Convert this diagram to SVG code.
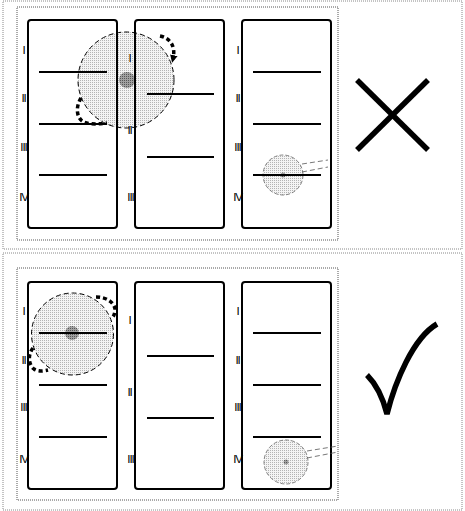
<svg xmlns="http://www.w3.org/2000/svg" width="465" height="511" viewBox="0 0 465 511">
<defs>
<pattern id="dots" width="2" height="2" patternUnits="userSpaceOnUse"><rect width="2" height="2" fill="#f4f4f4"/><rect width="1" height="1" fill="#b4b4b4"/></pattern>
<pattern id="dense" width="2" height="2" patternUnits="userSpaceOnUse"><rect width="2" height="2" fill="#a0a0a0"/><rect width="1" height="1" fill="#555"/></pattern>
<marker id="ah" viewBox="0 0 10 10" refX="5" refY="5" markerWidth="2.2" markerHeight="2.2" orient="auto"><path d="M0,0 L10,5 L0,10 z" fill="#000"/></marker>
</defs>
<style>
.frame{fill:none;stroke:#888;stroke-width:1;stroke-dasharray:1 1}
.inner{fill:none;stroke:#555;stroke-width:1;stroke-dasharray:1 1}
.col{fill:none;stroke:#000;stroke-width:2}
.ln{stroke:#000;stroke-width:2}
.lbl{font-family:"Liberation Sans",Arial,sans-serif;font-weight:normal;font-size:11.5px;letter-spacing:-1.1px;text-anchor:middle;fill:#000}
.big{fill:url(#dots);stroke:#000;stroke-width:1;stroke-dasharray:5 3}
.small{fill:url(#dots);stroke:#666;stroke-width:0.8;stroke-dasharray:4 2}
.core{fill:url(#dense);stroke:none}
.rot{fill:none;stroke:#000;stroke-width:3.5;stroke-dasharray:4 3}
.lead{stroke:#555;stroke-width:0.8;stroke-dasharray:5 3}
.mark{fill:none;stroke:#000;stroke-width:5.5;stroke-linecap:butt}
</style>
<rect class="frame" x="3" y="1" width="459" height="248"/>
<rect class="frame" x="3" y="253" width="459" height="257"/>
<rect class="inner" x="17" y="7" width="321" height="233"/>
<rect class="inner" x="17" y="268" width="321" height="232"/>

<g id="top-circle">
<circle class="big" cx="126" cy="80" r="48"/>
<circle class="core" cx="127" cy="80" r="8"/>
</g>
<g id="top-small-circle">
<circle class="small" cx="283" cy="175" r="20"/>
<circle class="core" cx="283" cy="175" r="2.5"/>
</g>
<g id="bottom-circle">
<circle class="big" cx="72.5" cy="334" r="41"/>
<circle class="core" cx="72" cy="333" r="7"/>
</g>
<g id="bottom-small-circle">
<circle class="small" cx="286" cy="462" r="22"/>
<circle class="core" cx="286" cy="462" r="2.5"/>
</g>

<g id="top-col1">
<rect class="col" x="28" y="20" width="89" height="208" rx="3"/>
<line class="ln" x1="39" y1="72" x2="107" y2="72"/>
<line class="ln" x1="39" y1="124" x2="107" y2="124"/>
<line class="ln" x1="39" y1="175" x2="107" y2="175"/>
<text class="lbl" x="23.5" y="54">I</text>
<text class="lbl" x="23.5" y="102">II</text>
<text class="lbl" x="23.5" y="151">III</text>
<text class="lbl" x="23.5" y="201">IV</text>
</g>
<g id="top-col2">
<rect class="col" x="135" y="20" width="89" height="208" rx="3"/>
<line class="ln" x1="147" y1="94" x2="214" y2="94"/>
<line class="ln" x1="147" y1="157" x2="214" y2="157"/>
<text class="lbl" x="129.5" y="62">I</text>
<text class="lbl" x="129.5" y="134">II</text>
<text class="lbl" x="130.5" y="201">III</text>
</g>
<g id="top-col3">
<rect class="col" x="242" y="20" width="89" height="208" rx="3"/>
<line class="ln" x1="253" y1="72" x2="321" y2="72"/>
<line class="ln" x1="253" y1="124" x2="321" y2="124"/>
<line class="ln" x1="253" y1="175" x2="321" y2="175"/>
<text class="lbl" x="237.5" y="54">I</text>
<text class="lbl" x="237.5" y="102">II</text>
<text class="lbl" x="237.5" y="151">III</text>
<text class="lbl" x="237.5" y="201">IV</text>
</g>
<g id="bottom-col1">
<rect class="col" x="28" y="282" width="89" height="207" rx="3"/>
<line class="ln" x1="39" y1="333" x2="107" y2="333"/>
<line class="ln" x1="39" y1="385" x2="107" y2="385"/>
<line class="ln" x1="39" y1="437" x2="107" y2="437"/>
<text class="lbl" x="23.5" y="315">I</text>
<text class="lbl" x="23.5" y="364">II</text>
<text class="lbl" x="23.5" y="411">III</text>
<text class="lbl" x="23.5" y="463">IV</text>
</g>
<g id="bottom-col2">
<rect class="col" x="135" y="282" width="89" height="207" rx="3"/>
<line class="ln" x1="147" y1="356" x2="214" y2="356"/>
<line class="ln" x1="147" y1="418" x2="214" y2="418"/>
<text class="lbl" x="129.5" y="324">I</text>
<text class="lbl" x="129.5" y="396">II</text>
<text class="lbl" x="130.5" y="463">III</text>
</g>
<g id="bottom-col3">
<rect class="col" x="242" y="282" width="89" height="207" rx="3"/>
<line class="ln" x1="253" y1="333" x2="321" y2="333"/>
<line class="ln" x1="253" y1="385" x2="321" y2="385"/>
<line class="ln" x1="253" y1="437" x2="321" y2="437"/>
<text class="lbl" x="237.5" y="315">I</text>
<text class="lbl" x="237.5" y="364">II</text>
<text class="lbl" x="237.5" y="411">III</text>
<text class="lbl" x="237.5" y="463">IV</text>
</g>

<g id="connectors">
<path class="rot" d="M160,36 C170,38 176,46 173,59" marker-end="url(#ah)"/>
<path class="rot" d="M81,98 C76,106 76,116 82,121 C88,125 100,124 107,123"/>
<path class="rot" d="M96,297 C106,297 114,302 115,309 C115,313 114,316 112,318"/>
<path class="rot" d="M33,348 C28,354 28,364 34,369 C38,372 44,371 48,370"/>
<line class="lead" x1="302" y1="164" x2="328" y2="160"/>
<line class="lead" x1="302" y1="172" x2="328" y2="167"/>
<line class="lead" x1="307" y1="451" x2="338" y2="446"/>
<line class="lead" x1="307" y1="458" x2="338" y2="452"/>
</g>

<g id="cross">
<line class="mark" x1="357" y1="80" x2="428" y2="150"/>
<line class="mark" x1="428" y1="80" x2="357" y2="150"/>
</g>
<g id="check">
<path class="mark" d="M367,375 C376,384 383,398 387,414 C395,382 413,338 437,324" stroke-linecap="round"/>
</g>
</svg>
